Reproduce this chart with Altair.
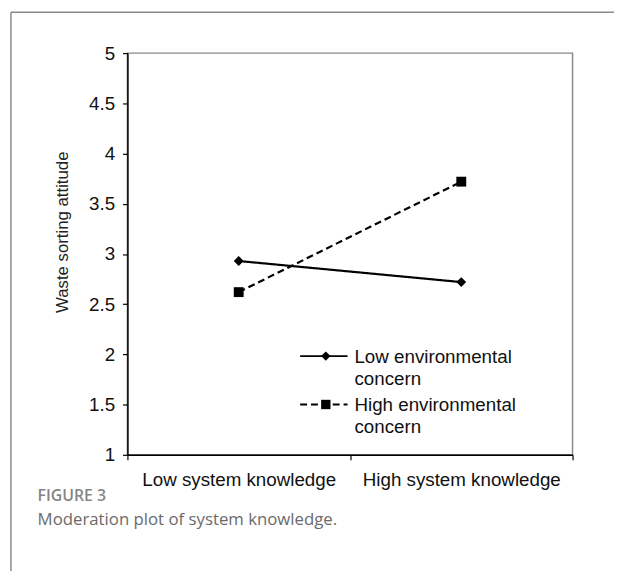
import altair as alt
import pandas as pd

categories = ["Low system knowledge", "High system knowledge"]
series = ["Low environmental concern", "High environmental concern"]
low_concern = [2.93, 2.72]
high_concern = [2.62, 3.72]
y_ticks = [1, 1.5, 2, 2.5, 3, 3.5, 4, 4.5, 5]
legend_lines = [["Low environmental", "concern"], ["High environmental", "concern"]]
shapes = ["diamond", "square"]
dashes = [[1, 0], [7, 4]]
y_title = "Waste sorting attitude"
fig_label = "FIGURE 3"
caption = "Moderation plot of system knowledge."

rows = []
for s, vals in zip(series, [low_concern, high_concern]):
    for c, v in zip(categories, vals):
        rows.append({"knowledge": c, "series": s, "attitude": v})
df = pd.DataFrame(rows)
one = pd.DataFrame({"k": [0]})

FONT = "Liberation Sans"
W, H = 451, 407

x_enc = alt.X(
    "knowledge:N",
    sort=categories,
    bandPosition=0.5,
    scale=alt.Scale(type="band", domain=categories, paddingInner=0, paddingOuter=0),
    axis=alt.Axis(title=None, tickBand="extent", labelAngle=0, labelPadding=11, labelLimit=0),
)
y_enc = alt.Y(
    "attitude:Q",
    scale=alt.Scale(domain=[1, 5], nice=False, zero=False),
    axis=alt.Axis(
        values=y_ticks,
        format="~g",
        grid=False,
        title=y_title,
        titleFontSize=17,
        titleFontWeight="normal",
        titleFont=FONT,
        titleColor="#222",
        titleX=-66,
        titleY=181,
        titleBaseline="middle",
        titleAlign="center",
        titleAngle=270,
        labelPadding=8,
    ),
)

base = alt.Chart(df)
lines = base.mark_line(color="black", strokeWidth=2.2).encode(
    x=x_enc,
    y=y_enc,
    strokeDash=alt.StrokeDash("series:N", scale=alt.Scale(domain=series, range=dashes), legend=None),
    detail="series:N",
)
points = base.mark_point(filled=True, opacity=1, color="black", size=100).encode(
    x=x_enc,
    y=y_enc,
    shape=alt.Shape("series:N", scale=alt.Scale(domain=series, range=shapes), legend=None),
)

layers = [lines, points]

# manual legend
leg_y = [307, 356]
for i in range(len(series)):
    ly = leg_y[i]
    layers.append(
        alt.Chart(one).mark_rule(color="black", strokeWidth=2, strokeDash=dashes[i]).encode(
            x=alt.value(175), x2=alt.value(223), y=alt.value(ly)
        )
    )
    layers.append(
        alt.Chart(one).mark_point(filled=True, opacity=1, color="black", size=90, shape=shapes[i]).encode(
            x=alt.value(201), y=alt.value(ly)
        )
    )
    layers.append(
        alt.Chart(one).mark_text(
            align="left", baseline="middle", font=FONT, fontSize=19, lineHeight=22, color="#111"
        ).encode(x=alt.value(230), y=alt.value(ly + 1), text=alt.value(legend_lines[i]))
    )

# outer frame (left and top edges)
layers.append(
    alt.Chart(one).mark_rule(color="#8a8a8a", strokeWidth=1.5).encode(
        x=alt.value(-118), y=alt.value(-41.5), y2=alt.value(H + 200)
    )
)
layers.append(
    alt.Chart(one).mark_rule(color="#8a8a8a", strokeWidth=1.5).encode(
        x=alt.value(-118), x2=alt.value(W + 200), y=alt.value(-41.5)
    )
)

# caption
layers.append(
    alt.Chart(one).mark_text(
        align="left", baseline="middle", font="Open Sans", fontSize=16, fontWeight=600, color="#858585"
    ).encode(x=alt.value(-91), y=alt.value(449), text=alt.value(fig_label))
)
layers.append(
    alt.Chart(one).mark_text(
        align="left", baseline="middle", font="Open Sans", fontSize=17, color="#6a6a6a"
    ).encode(x=alt.value(-91), y=alt.value(473), text=alt.value(caption))
)

chart = (
    alt.layer(*layers)
    .properties(
        width=W,
        height=H,
        autosize=alt.AutoSizeParams(type="none"),
        padding={"left": 121, "top": 42, "right": 42, "bottom": 114},
    )
    .configure_view(stroke="#8a8a8a", strokeWidth=1.5)
    .configure_axis(
        domainColor="black",
        domainWidth=1.5,
        tickColor="black",
        tickWidth=1.2,
        tickSize=5,
        labelFont=FONT,
        labelFontSize=19,
        labelColor="#111",
    )
)

chart.save("out.html", embed_options={"renderer": "svg", "actions": False})
